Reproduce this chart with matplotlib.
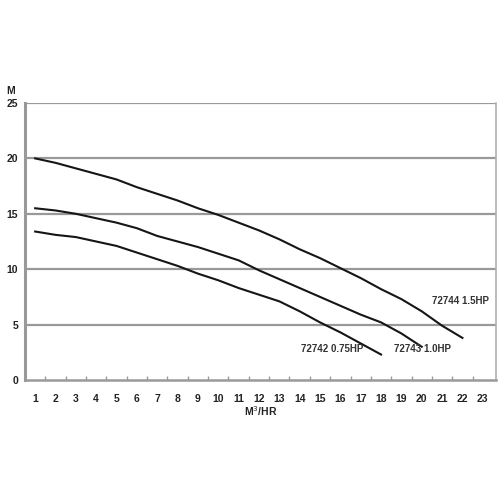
import numpy as np
from matplotlib import pyplot as plt

# flow (M^3/HR) and head (M) for each pump
flow_72744 = list(range(1, 23))
head_72744 = [20.0, 19.6, 19.1, 18.6, 18.1, 17.4, 16.8, 16.2, 15.5, 14.9, 14.2,
              13.5, 12.7, 11.8, 11.0, 10.1, 9.2, 8.2, 7.3, 6.2, 4.9, 3.8]

flow_72743 = list(range(1, 21))
head_72743 = [15.5, 15.3, 15.0, 14.6, 14.2, 13.7, 13.0, 12.5, 12.0, 11.4,
              10.8, 9.9, 9.1, 8.3, 7.5, 6.7, 5.9, 5.2, 4.2, 3.0]

flow_72742 = list(range(1, 19))
head_72742 = [13.4, 13.1, 12.9, 12.5, 12.1, 11.5, 10.9, 10.3, 9.6, 9.0,
              8.3, 7.7, 7.1, 6.2, 5.2, 4.3, 3.3, 2.3]

labels = ['72744 1.5HP', '72743 1.0HP', '72742 0.75HP']
label_pos = [(21.9, 7.1), (20.05, 2.8), (15.6, 2.8)]

x_ticks = list(range(1, 24))
y_ticks = [0, 5, 10, 15, 20, 25]

plt.rcParams['font.family'] = ['Liberation Sans', 'DejaVu Sans']

fig = plt.figure(figsize=(5, 5), dpi=100)
ax = fig.add_axes([0.05, 0.24, 0.942, 0.554])

grey = '#999999'
for y in y_ticks[1:]:
    ax.axhline(y, color=grey, lw=1.6, zorder=1)

for xs, ys in [(flow_72744, head_72744), (flow_72743, head_72743), (flow_72742, head_72742)]:
    ax.plot(xs, ys, color='#151515', lw=1.5, zorder=3)

for text, (tx, ty) in zip(labels, label_pos):
    ax.text(tx, ty, text, ha='center', va='center', fontsize=7,
            fontweight='bold', color='#333333', zorder=4)

ax.set_xlim(0.5, 23.65)
ax.set_ylim(0, 25)

# labels on integers, little tick marks halfway between
ax.set_xticks(np.arange(1.5, 23, 1.0))
ax.set_xticklabels([])
ax.set_xticks(x_ticks, minor=True)
ax.set_xticklabels([str(v) for v in x_ticks], minor=True)
ax.tick_params(axis='x', which='major', direction='in', length=3, width=1, color=grey)
ax.tick_params(axis='x', which='minor', length=0, pad=10, labelsize=7.5)
for lab in ax.get_xticklabels(minor=True):
    lab.set_fontweight('bold')
    lab.set_color('#222222')

ax.set_yticks(y_ticks)
ax.set_yticklabels([str(v) for v in y_ticks])
ax.tick_params(axis='y', length=0, pad=5, labelsize=7.5)
for lab in ax.get_yticklabels():
    lab.set_fontweight('bold')
    lab.set_color('#222222')

ax.spines['top'].set_visible(False)
ax.spines['left'].set_color(grey)
ax.spines['left'].set_linewidth(2.2)
ax.spines['bottom'].set_color(grey)
ax.spines['bottom'].set_linewidth(1.8)
ax.spines['right'].set_color('#b0b0b0')
ax.spines['right'].set_linewidth(1.2)

ax.set_xlabel('M$^3$/HR', fontsize=7.5, fontweight='bold', labelpad=0, color='#222222')
fig.text(0.012, 0.812, 'M', fontsize=7.5, fontweight='bold', color='#222222')

fig.savefig('out.png', dpi=100, facecolor='white')
